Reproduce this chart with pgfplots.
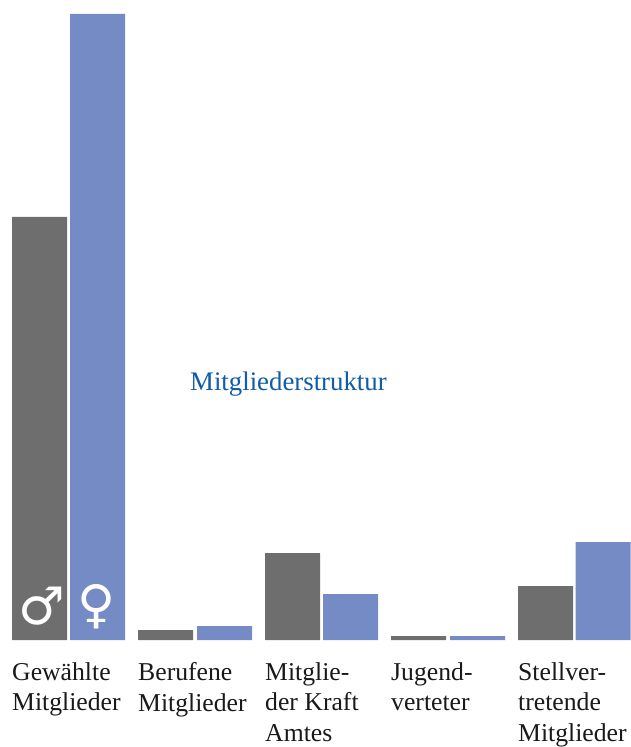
\documentclass[border=0pt]{standalone}
\usepackage{pgfplots}
\pgfplotsset{compat=1.18}
\usepackage{fontspec}
\setmainfont{Liberation Serif}
\newfontfamily\symfont{DejaVu Sans}
\definecolor{mgray}{HTML}{6E6E6E}
\definecolor{mblue}{HTML}{748BC5}
\definecolor{tblue}{HTML}{0F5CA8}
\begin{document}
\begin{tikzpicture}[x=1pt,y=1pt]
\begin{axis}[
  scale only axis, width=630pt, height=640pt,
  at={(0,0)}, anchor=south west,
  xmin=0, xmax=630, ymin=0, ymax=640,
  axis line style={draw=none}, major tick length=0pt,
  clip=false,
  ytick=\empty,
  xtick={12,138,265,391,518},
  xticklabels={{Gewählte\\Mitglieder},{Berufene\\Mitglieder},{Mitglie-\\der Kraft\\Amtes},{Jugend-\\verteter},{Stellver-\\tretende\\Mitglieder}},
  xticklabel style={anchor=north west, align=left, font=\fontsize{25.7}{30.4}\selectfont, text=black!90, inner sep=0pt, yshift=-22.5pt},
]
\addplot[ybar, bar width=55, fill=mgray, draw=none] coordinates {(39.5,423) (165.5,10) (292.5,87) (418.5,4) (545.5,54)};
\addplot[ybar, bar width=55, fill=mblue, draw=none] coordinates {(97.5,626) (224.5,14) (350.5,46) (477.5,4) (603,98)};
\node[text=tblue, font=\fontsize{26.8}{32}\selectfont, anchor=base west, inner sep=0pt] at (axis cs:190,249) {Mitgliederstruktur};
\node[text=white, font=\symfont\fontsize{52}{52}\selectfont, inner sep=0pt] at (axis cs:42,34) {♂};
\node[text=white, font=\symfont\fontsize{52}{52}\selectfont, inner sep=0pt] at (axis cs:97,33) {♀};
\end{axis}
\pgfresetboundingbox
\path (0pt,-107pt) rectangle (630pt,640pt);
\end{tikzpicture}
\end{document}
